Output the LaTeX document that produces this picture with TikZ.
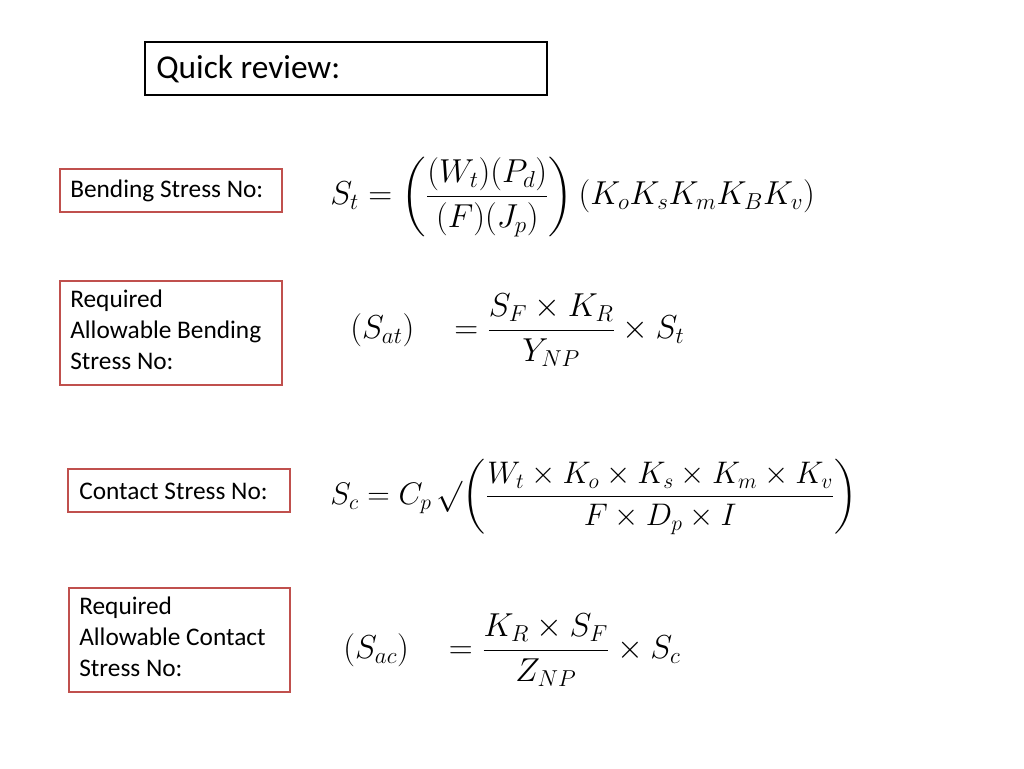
\documentclass[tikz,border=0pt]{standalone}
\usepackage{amsmath}
\usepackage{graphicx}
\usepackage{fontspec}
\setmainfont{Carlito}
\begin{document}
\begin{tikzpicture}[x=0.75pt,y=-0.75pt,
  rbox/.style={line width=1.5pt},
  lbl/.style={font=\fontsize{19}{23}\selectfont, align=left, anchor=north west, inner sep=0pt},
  eq/.style={anchor=west, inner sep=0pt, font=\fontsize{23}{27}\selectfont}]
\definecolor{rb}{RGB}{192,80,77}
\useasboundingbox (0,0) rectangle (1024,768);
\draw[line width=1.5pt] (145,42) rectangle (547,95);
\node[anchor=west, inner sep=0pt, font=\fontsize{25}{28}\selectfont] (qr) at (156,69) {Quick review:};
\draw[rbox,draw=rb] (60,169) rectangle (282,212);
\node[anchor=west,inner sep=0pt,font=\fontsize{19}{23}\selectfont] (b1) at (70,191) {Bending Stress No:};
\draw[rbox,draw=rb] (60,281) rectangle (282,385);
\node[lbl] (b2) at (70,290) {Required\\Allowable Bending\\Stress No:};
\draw[rbox,draw=rb] (68,469) rectangle (290,512);
\node[anchor=west,inner sep=0pt,font=\fontsize{19}{23}\selectfont] (b3) at (79,491) {Contact Stress No:};
\draw[rbox,draw=rb] (69,588) rectangle (290,692);
\node[lbl] (b4) at (79,597) {Required\\Allowable Contact\\Stress No:};
\node[eq] (e1) at (330,197) {$S_t=\left(\dfrac{(W_t)(P_d)}{(F)(J_p)}\right)(K_oK_sK_mK_BK_v)$};
\node[eq] (e2) at (350,330) {$(S_{at})\quad=\dfrac{S_F\times K_R}{Y_{NP}}\times S_t$};
\node[eq] (e3) at (330,497) {\scalebox{0.94}{$S_c=C_p\,{\surd}\!\left(\dfrac{W_t\times K_o\times K_s\times K_m\times K_v}{F\times D_p\times I}\right)$}};
\node[eq] (e4) at (343,650) {$(S_{ac})\quad=\dfrac{K_R\times S_F}{Z_{NP}}\times S_c$};
\end{tikzpicture}
\end{document}
